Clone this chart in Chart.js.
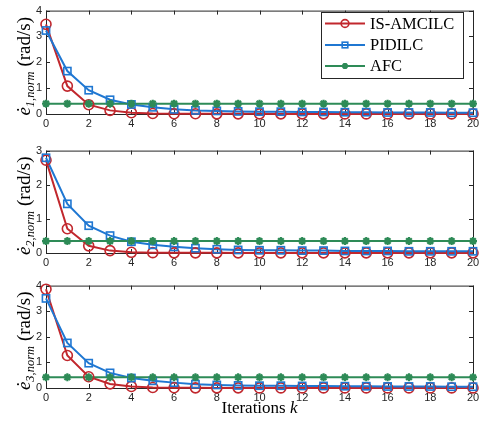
<!DOCTYPE html>
<html>
<head>
<meta charset="utf-8">
<script src="https://cdn.jsdelivr.net/npm/chart.js@4/dist/chart.umd.min.js"></script>
<style>
  html, body { margin: 0; padding: 0; background: #fff; }
  #wrap { position: relative; width: 484px; height: 425px; }
  canvas { position: absolute; left: 0; }
</style>
</head>
<body>
<div id="wrap">
  <canvas id="c1" width="484" height="134" style="top:0px"></canvas>
  <canvas id="c2" width="484" height="133" style="top:140px"></canvas>
  <canvas id="c3" width="484" height="150" style="top:275px"></canvas>
</div>
<script>
// iteration index
const iterations = [0,1,2,3,4,5,6,7,8,9,10,11,12,13,14,15,16,17,18,19,20];
const seriesNames = ["IS-AMCILC", "PIDILC", "AFC"];

// joint 1
const red1   = [3.47,1.08,0.36,0.14,0.05,0.02,0.01,0.01,0.005,0.005,0.005,0.004,0.004,0.004,0.003,0.003,0.003,0.003,0.003,0.003,0.003];
const blue1  = [3.23,1.66,0.92,0.55,0.37,0.26,0.18,0.14,0.12,0.10,0.09,0.09,0.08,0.08,0.07,0.07,0.06,0.06,0.06,0.05,0.05];
const green1 = [0.40,0.40,0.40,0.40,0.40,0.40,0.40,0.40,0.40,0.40,0.40,0.40,0.40,0.40,0.40,0.40,0.40,0.40,0.40,0.40,0.40];

// joint 2
const red2   = [2.72,0.71,0.21,0.07,0.02,0.01,0.005,0.004,0.004,0.003,0.003,0.003,0.003,0.003,0.003,0.003,0.003,0.003,0.003,0.003,0.003];
const blue2  = [2.79,1.44,0.80,0.51,0.33,0.24,0.18,0.14,0.11,0.09,0.08,0.08,0.07,0.07,0.06,0.06,0.06,0.05,0.05,0.05,0.05];
const green2 = [0.35,0.35,0.35,0.35,0.35,0.35,0.35,0.35,0.35,0.35,0.35,0.35,0.35,0.35,0.35,0.35,0.35,0.35,0.35,0.35,0.35];

// joint 3
const red3   = [3.86,1.27,0.44,0.16,0.06,0.02,0.01,0.005,0.004,0.004,0.003,0.003,0.003,0.003,0.003,0.003,0.003,0.003,0.003,0.003,0.003];
const blue3  = [3.50,1.76,0.97,0.59,0.39,0.28,0.21,0.15,0.12,0.10,0.09,0.09,0.08,0.08,0.07,0.07,0.06,0.06,0.06,0.05,0.05];
const green3 = [0.42,0.42,0.42,0.42,0.42,0.42,0.42,0.42,0.42,0.42,0.42,0.42,0.42,0.42,0.42,0.42,0.42,0.42,0.42,0.42,0.42];

const xTicks = [0,2,4,6,8,10,12,14,16,18,20];

const RED = "#c1272d";
const BLUE = "#1f77d2";
const GREEN = "#2e8b57";
const AXIS = "#262626";

function pts(arr) {
  return iterations.map((k, i) => ({ x: k, y: arr[i] }));
}

// draws the marker shapes (also used for the legend, scaled)
function marker(ctx, style, x, y, color, s) {
  s = s || 1;
  ctx.save();
  ctx.strokeStyle = color;
  ctx.fillStyle = color;
  if (style === "circle") {
    ctx.lineWidth = 1.6;
    ctx.beginPath();
    ctx.arc(x, y, 5 * s, 0, Math.PI * 2);
    ctx.stroke();
  } else if (style === "rect") {
    ctx.lineWidth = 1.6;
    ctx.strokeRect(x - 3.6 * s, y - 3.6 * s, 7.2 * s, 7.2 * s);
  } else {
    ctx.lineWidth = 2.2;
    ctx.beginPath();
    for (let a = 0; a < 4; a++) {
      const t = a * Math.PI / 4;
      ctx.moveTo(x - 4 * s * Math.cos(t), y - 4 * s * Math.sin(t));
      ctx.lineTo(x + 4 * s * Math.cos(t), y + 4 * s * Math.sin(t));
    }
    ctx.stroke();
    ctx.beginPath();
    ctx.arc(x, y, 2.2 * s, 0, Math.PI * 2);
    ctx.fill();
  }
  ctx.restore();
}

// box with inward ticks on all four sides
const framePlugin = {
  id: "frame",
  beforeDatasetsDraw(chart) {
    const { ctx, chartArea: a, scales } = chart;
    ctx.save();
    ctx.strokeStyle = AXIS;
    ctx.lineWidth = 1;
    ctx.strokeRect(a.left + 0.5, a.top + 0.5, a.right - a.left, a.bottom - a.top);
    ctx.beginPath();
    scales.x.ticks.forEach(t => {
      const px = Math.round(scales.x.getPixelForValue(t.value)) + 0.5;
      ctx.moveTo(px, a.bottom); ctx.lineTo(px, a.bottom - 4);
      ctx.moveTo(px, a.top); ctx.lineTo(px, a.top + 4);
    });
    scales.y.ticks.forEach(t => {
      const py = Math.round(scales.y.getPixelForValue(t.value)) + 0.5;
      ctx.moveTo(a.left, py); ctx.lineTo(a.left + 4, py);
      ctx.moveTo(a.right, py); ctx.lineTo(a.right - 4, py);
    });
    ctx.stroke();
    ctx.restore();
  },
  afterDatasetsDraw(chart) {
    // markers drawn by hand so they match the legend
    const { ctx } = chart;
    chart.data.datasets.forEach((ds, i) => {
      const meta = chart.getDatasetMeta(i);
      meta.data.forEach(p => marker(ctx, ds.markerStyle, p.x, p.y, ds.borderColor));
    });
  }
};

// y label: e-dot with subscript, rotated
function yLabelPlugin(idx) {
  return {
    id: "ylabel",
    afterDraw(chart) {
      const { ctx, chartArea: a } = chart;
      const parts = [
        { t: "\u0117", f: "italic 19px 'Liberation Serif'", dy: 0 },
        { t: idx + ",norm", f: "italic 12.5px 'Liberation Serif'", dy: 4 },
        { t: " (rad/s)", f: "19px 'Liberation Serif'", dy: 0 }
      ];
      let total = 0;
      parts.forEach(p => { ctx.font = p.f; p.w = ctx.measureText(p.t).width; total += p.w; });
      ctx.save();
      ctx.translate(30, (a.top + a.bottom) / 2 + 4);
      ctx.rotate(-Math.PI / 2);
      ctx.fillStyle = "#000";
      ctx.textBaseline = "alphabetic";
      let x = -total / 2;
      parts.forEach(p => {
        ctx.font = p.f;
        ctx.fillText(p.t, x, p.dy);
        x += p.w;
      });
      ctx.restore();
    }
  };
}

const legendPlugin = {
  id: "boxlegend",
  afterDraw(chart) {
    const { ctx } = chart;
    ctx.save();
    ctx.fillStyle = "#fff";
    ctx.fillRect(321, 12, 142, 66);
    ctx.strokeStyle = AXIS;
    ctx.lineWidth = 1;
    ctx.strokeRect(321.5, 12.5, 142, 66);
    const rows = [23.5, 45, 66];
    chart.data.datasets.forEach((ds, i) => {
      const y = rows[i];
      ctx.strokeStyle = ds.borderColor;
      ctx.lineWidth = 2;
      ctx.beginPath();
      ctx.moveTo(325, y); ctx.lineTo(365, y);
      ctx.stroke();
      marker(ctx, ds.markerStyle, 345, y, ds.borderColor, 0.78);
      ctx.fillStyle = "#000";
      ctx.font = "16.5px 'Liberation Serif'";
      ctx.textBaseline = "middle";
      ctx.fillText(ds.label, 370, y + 1);
    });
    ctx.restore();
  }
};

const xLabelPlugin = {
  id: "xlabel",
  afterDraw(chart) {
    const { ctx, chartArea: a } = chart;
    const p1 = "Iterations ", p2 = "k";
    ctx.save();
    ctx.font = "17px 'Liberation Serif'";
    const w1 = ctx.measureText(p1).width;
    ctx.font = "italic 17px 'Liberation Serif'";
    const w2 = ctx.measureText(p2).width;
    let x = (a.left + a.right) / 2 - (w1 + w2) / 2;
    ctx.fillStyle = "#000";
    ctx.textBaseline = "alphabetic";
    ctx.font = "17px 'Liberation Serif'";
    ctx.fillText(p1, x, 138);
    ctx.font = "italic 17px 'Liberation Serif'";
    ctx.fillText(p2, x + w1, 138);
    ctx.restore();
  }
};

function makePanel(id, idx, red, blue, green, ymax, xAxisHeight, extra) {
  const plugins = [framePlugin, yLabelPlugin(idx)].concat(extra);
  return new Chart(document.getElementById(id), {
    type: "line",
    data: {
      datasets: [
        { label: seriesNames[0], data: pts(red), borderColor: RED, markerStyle: "circle", order: 2 },
        { label: seriesNames[1], data: pts(blue), borderColor: BLUE, markerStyle: "rect", order: 1 },
        { label: seriesNames[2], data: pts(green), borderColor: GREEN, markerStyle: "star", order: 0 }
      ].map(d => Object.assign(d, { borderWidth: 2, pointRadius: 0, fill: false, tension: 0, clip: false }))
    },
    options: {
      responsive: false,
      animation: false,
      layout: { padding: { top: 7, right: 11, left: 0, bottom: 0 } },
      plugins: { legend: { display: false }, tooltip: { enabled: false } },
      scales: {
        x: {
          type: "linear", min: 0, max: 20,
          afterBuildTicks: s => { s.ticks = xTicks.map(v => ({ value: v })); },
          afterFit: s => { s.height = xAxisHeight; },
          grid: { display: false, drawTicks: false },
          border: { display: false },
          ticks: { padding: 3, color: AXIS, font: { family: "'Liberation Sans'", size: 11 }, maxRotation: 0 }
        },
        y: {
          min: 0, max: ymax,
          afterFit: s => { s.width = 46; },
          grid: { display: false, drawTicks: false },
          border: { display: false },
          ticks: { stepSize: 1, padding: 4, color: AXIS, font: { family: "'Liberation Sans'", size: 11 } }
        }
      }
    },
    plugins: plugins
  });
}

makePanel("c1", 1, red1, blue1, green1, 4, 20, [legendPlugin]);
makePanel("c2", 2, red2, blue2, green2, 3, 20, []);
makePanel("c3", 3, red3, blue3, green3, 4, 37, [xLabelPlugin]);
</script>
</body>
</html>
